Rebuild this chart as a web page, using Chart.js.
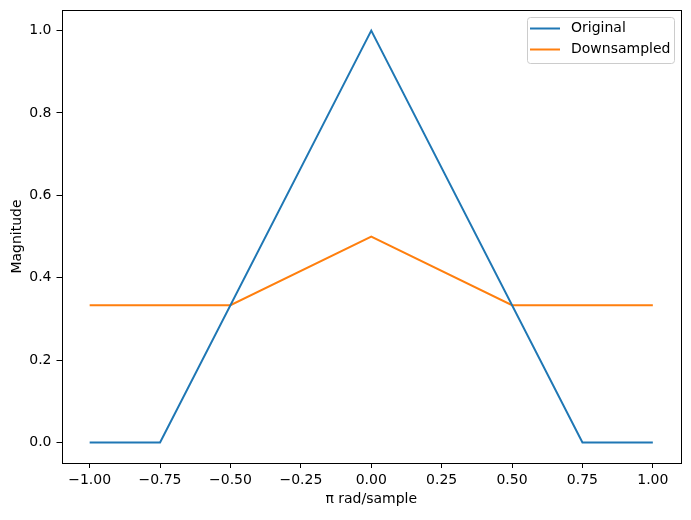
<!DOCTYPE html>
<html>
<head>
<meta charset="utf-8">
<script src="https://cdn.jsdelivr.net/npm/chart.js@4.4.1/dist/chart.umd.min.js"></script>
<style>
  body { margin: 0; background: #fff; }
  canvas { display: block; }
</style>
</head>
<body>
<canvas id="freqChart" width="691" height="520"></canvas>
<script>
// breakpoints of the two magnitude curves (piecewise linear)
const originalX = [-1, -0.75, 0, 0.75, 1];
const originalY = [0, 0, 1, 0, 0];
const downX = [-1, -0.5, 0, 0.5, 1];
const downY = [0.3333, 0.3333, 0.5, 0.3333, 0.3333];

const xTicks = [-1, -0.75, -0.5, -0.25, 0, 0.25, 0.5, 0.75, 1];
const yTicks = [0, 0.2, 0.4, 0.6, 0.8, 1.0];

const seriesNames = ['Original', 'Downsampled'];
const seriesColors = ['#1f77b4', '#ff7f0e'];

const FONT = 'DejaVu Sans';

const toPoints = (xs, ys) => xs.map((x, i) => ({ x: x, y: ys[i] }));

// axes frame on all four sides
const framePlugin = {
    id: 'frame',
    afterDraw(chart) {
        const { ctx, chartArea: a } = chart;
        ctx.save();
        ctx.strokeStyle = '#000';
        ctx.lineWidth = 1;
        ctx.strokeRect(Math.round(a.left) + 0.5, Math.round(a.top) + 0.5,
            Math.round(a.right - a.left) - 1, Math.round(a.bottom - a.top));
        ctx.restore();
    }
};

// matplotlib style legend box in upper right
const legendPlugin = {
    id: 'boxLegend',
    afterDraw(chart) {
        const { ctx, chartArea: a } = chart;
        const w = 147, h = 46;
        const x0 = a.right - 7 - w, y0 = a.top + 7;
        ctx.save();
        ctx.fillStyle = 'rgba(255,255,255,0.8)';
        ctx.strokeStyle = '#cccccc';
        ctx.lineWidth = 1;
        ctx.beginPath();
        ctx.roundRect(x0 + 0.5, y0 + 0.5, w, h, 3);
        ctx.fill();
        ctx.stroke();
        ctx.font = '14px "' + FONT + '"';
        ctx.textBaseline = 'middle';
        ctx.fillStyle = '#000';
        chart.data.datasets.forEach((ds, i) => {
            const yy = y0 + 11.5 + i * 21;
            ctx.strokeStyle = ds.borderColor;
            ctx.lineWidth = 2;
            ctx.beginPath();
            ctx.moveTo(x0 + 3, yy);
            ctx.lineTo(x0 + 33, yy);
            ctx.stroke();
            ctx.fillText(ds.label, x0 + 44, yy);
        });
        ctx.restore();
    }
};

const ctx = document.getElementById('freqChart').getContext('2d');
new Chart(ctx, {
    type: 'line',
    data: {
        datasets: [
            {
                label: seriesNames[0],
                data: toPoints(originalX, originalY),
                borderColor: seriesColors[0],
                borderWidth: 2,
                pointRadius: 0,
                tension: 0,
                fill: false
            },
            {
                label: seriesNames[1],
                data: toPoints(downX, downY),
                borderColor: seriesColors[1],
                borderWidth: 2,
                pointRadius: 0,
                tension: 0,
                fill: false
            }
        ]
    },
    options: {
        responsive: false,
        animation: false,
        layout: { padding: { top: 10, right: 10, left: 0, bottom: 0 } },
        plugins: {
            legend: { display: false },
            tooltip: { enabled: false }
        },
        scales: {
            x: {
                type: 'linear',
                min: -1.1,
                max: 1.1,
                afterBuildTicks: (scale) => { scale.ticks = xTicks.map(v => ({ value: v })); },
                afterFit: (scale) => {
                    scale.height = 57;
                    scale.paddingLeft = 0;
                    scale.paddingRight = 0;
                },
                grid: { drawOnChartArea: false, drawTicks: true, tickLength: 5, color: '#000' },
                border: { display: false },
                ticks: {
                    color: '#000',
                    padding: 4,
                    maxRotation: 0,
                    autoSkip: false,
                    font: { family: FONT, size: 14 },
                    callback: (v) => Number(v).toFixed(2).replace('-', '\u2212')
                },
                title: {
                    display: true,
                    text: '\u03c0 rad/sample',
                    color: '#000',
                    font: { family: FONT, size: 14 },
                    padding: { top: 0, bottom: 12 }
                }
            },
            y: {
                type: 'linear',
                min: -0.05,
                max: 1.05,
                afterBuildTicks: (scale) => { scale.ticks = yTicks.map(v => ({ value: v })); },
                afterFit: (scale) => {
                    scale.width = 61.5;
                    scale.paddingTop = 0;
                    scale.paddingBottom = 0;
                },
                grid: { drawOnChartArea: false, drawTicks: true, tickLength: 5, color: '#000' },
                border: { display: false },
                ticks: {
                    color: '#000',
                    padding: 5,
                    autoSkip: false,
                    font: { family: FONT, size: 14 },
                    callback: (v) => Number(v).toFixed(1)
                },
                title: {
                    display: true,
                    text: 'Magnitude',
                    color: '#000',
                    font: { family: FONT, size: 14 },
                    padding: { top: 9, bottom: 0 }
                }
            }
        }
    },
    plugins: [framePlugin, legendPlugin]
});
</script>
</body>
</html>
